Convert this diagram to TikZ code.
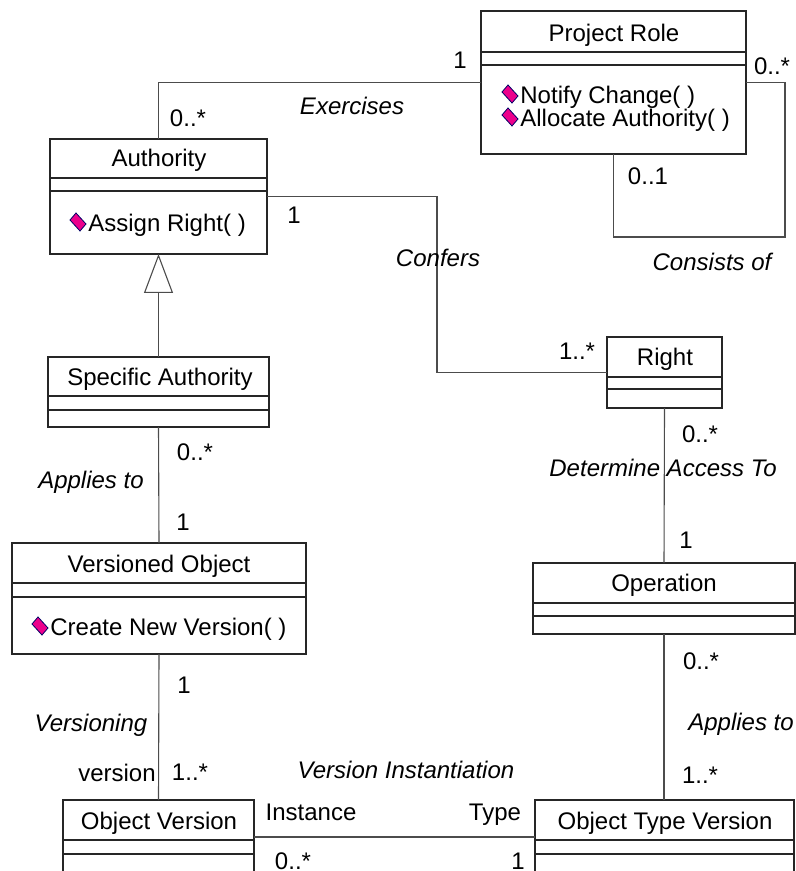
\documentclass[tikz,border=0pt]{standalone}
\usepackage{fontspec}
\setmainfont{Liberation Sans}
\usetikzlibrary{fit,arrows.meta}
\begin{document}
\begin{tikzpicture}[x=0.5pt,y=-0.5pt,
  every node/.style={font=\fontsize{12}{14}\selectfont},
  cls/.style={draw=black!85, line width=0.55pt, inner sep=0pt, outer sep=0pt},
  sepl/.style={draw=black!85, line width=0.55pt},
  conn/.style={draw=black!70, line width=0.55pt},
  txt/.style={inner sep=0pt, text height=8.6pt, text depth=0pt},
  role/.style={txt, font=\fontsize{12}{14}\selectfont\itshape},
  opicon/.pic={\filldraw[fill=magenta, draw=blue!40!black, line width=0.4pt] (-8,-2) -- (-2,-9) -- (8,2) -- (2,9) -- cycle;}
]
\useasboundingbox (0,0) rectangle (796,871);

% ---------- classes ----------
\node[cls, fit={(481,11) (746,154)}] (prole) {};
\draw[sepl] (prole.west |- 0,52) -- (prole.east |- 0,52);
\draw[sepl] (prole.west |- 0,65) -- (prole.east |- 0,65);
\node[txt] (proleT) at (614,33) {Project Role};
\pic at (510,94) {opicon};
\node[txt, anchor=west] (proleM1) at (520,95) {Notify Change( )};
\pic at (510,117) {opicon};
\node[txt, anchor=west] (proleM2) at (520,118) {Allocate Authority( )};

\node[cls, fit={(50,139) (267,254)}] (auth) {};
\draw[sepl] (auth.west |- 0,178) -- (auth.east |- 0,178);
\draw[sepl] (auth.west |- 0,191) -- (auth.east |- 0,191);
\node[txt] (authT) at (159,158) {Authority};
\pic at (78,222) {opicon};
\node[txt, anchor=west] (authM1) at (88,223) {Assign Right( )};

\node[cls, fit={(48,357) (269,427)}] (sauth) {};
\draw[sepl] (sauth.west |- 0,396) -- (sauth.east |- 0,396);
\draw[sepl] (sauth.west |- 0,410) -- (sauth.east |- 0,410);
\node[txt] (sauthT) at (160,377) {Specific Authority};

\node[cls, fit={(12,543) (306,654)}] (vobj) {};
\draw[sepl] (vobj.west |- 0,583) -- (vobj.east |- 0,583);
\draw[sepl] (vobj.west |- 0,597) -- (vobj.east |- 0,597);
\node[txt] (vobjT) at (159,564) {Versioned Object};
\pic at (40,626) {opicon};
\node[txt, anchor=west] (vobjM1) at (50,627) {Create New Version( )};

\node[cls, fit={(63,800) (254,874)}] (ov) {};
\draw[sepl] (ov.west |- 0,840) -- (ov.east |- 0,840);
\draw[sepl] (ov.west |- 0,854) -- (ov.east |- 0,854);
\node[txt] (ovT) at (159,821) {Object Version};

\node[cls, fit={(607,337) (722,408)}] (right) {};
\draw[sepl] (right.west |- 0,377) -- (right.east |- 0,377);
\draw[sepl] (right.west |- 0,389) -- (right.east |- 0,389);
\node[txt] (rightT) at (665,357) {Right};

\node[cls, fit={(533,563) (795,634)}] (op) {};
\draw[sepl] (op.west |- 0,603) -- (op.east |- 0,603);
\draw[sepl] (op.west |- 0,616) -- (op.east |- 0,616);
\node[txt] (opT) at (664,583) {Operation};

\node[cls, fit={(535,800) (794,874)}] (otv) {};
\draw[sepl] (otv.west |- 0,840) -- (otv.east |- 0,840);
\draw[sepl] (otv.west |- 0,854) -- (otv.east |- 0,854);
\node[txt] (otvT) at (665,821) {Object Type Version};

% ---------- connectors ----------
\coordinate (loop) at (785,237);
\coordinate (cbend) at (437,300);

\draw[conn] (auth.north) |- (prole.west);
\draw[conn] (prole.east) -| (loop) -| (prole.south);
\draw[conn] (auth.east) -| (cbend) |- (right.west);
\draw[conn, -{Triangle[open, length=19.5pt, width=14.5pt]}] (sauth.north) -- (auth.south);
\draw[conn] (sauth.south) -- (vobj.north);
\draw[conn] (vobj.south) -- (ov.north);
\draw[conn] (ov.east) -- (otv.west);
\draw[conn] (right.south) -- (op.north);
\draw[conn] (op.south) -- (op.south |- otv.north);

% ---------- labels ----------
\node[txt] (l1) at (460,60) {1};
\node[txt] (l2) at (188,118) {0..*};
\node[role] (l3) at (352,106) {Exercises};
\node[txt] (l4) at (772,66) {0..*};
\node[txt] (l5) at (648,176) {0..1};
\node[role] (l6) at (712,262) {Consists of};
\node[txt] (l7) at (294,215) {1};
\node[role] (l8) at (438,258) {Confers};
\node[txt] (l9) at (577,351) {1..*};
\node[txt] (l10) at (700,434) {0..*};
\node[role] (l11) at (663,468) {Determine Access To};
\node[txt] (l12) at (686,540) {1};
\node[txt] (l13) at (195,452) {0..*};
\node[role] (l14) at (91,480) {Applies to};
\node[txt] (l15) at (183,522) {1};
\node[txt] (l16) at (184,685) {1};
\node[role] (l17) at (91,723) {Versioning};
\node[txt] (l18) at (117,773) {version};
\node[txt] (l19) at (190,772) {1..*};
\node[role] (l20) at (406,770) {Version Instantiation};
\node[txt] (l21) at (311,812) {Instance};
\node[txt] (l22) at (495,812) {Type};
\node[txt] (l23) at (293,861) {0..*};
\node[txt] (l24) at (518,861) {1};
\node[txt] (l25) at (701,661) {0..*};
\node[role] (l26) at (741,722) {Applies to};
\node[txt] (l27) at (700,775) {1..*};
\end{tikzpicture}
\end{document}
